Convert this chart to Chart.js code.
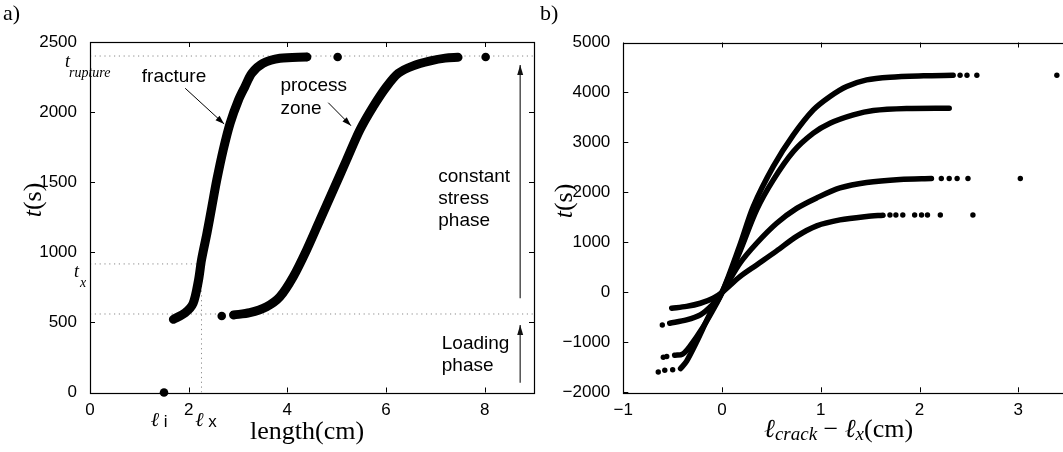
<!DOCTYPE html>
<html>
<head>
<meta charset="utf-8">
<script src="https://cdn.jsdelivr.net/npm/chart.js@4.4.0/dist/chart.umd.min.js"></script>
<style>
html, body { margin: 0; padding: 0; background: #fff; overflow: hidden; }
body { width: 1063px; height: 452px; position: relative; }
#pa { position: absolute; left: 0; top: 0; width: 545px; height: 452px; }
#pb { position: absolute; left: 540px; top: 0; width: 560px; height: 452px; }
</style>
</head>
<body>
<div id="pa"><canvas id="ca"></canvas></div>
<div id="pb"><canvas id="cb"></canvas></div>
<script>
// ---- panel a : length (cm) vs t (s)
const fracLen = [1.69, 1.93, 2.09, 2.20, 2.26, 2.37, 2.47, 2.57, 2.70, 2.84, 3.01, 3.14, 3.28, 3.51, 3.85, 4.39];
const fracT   = [522, 569, 636, 802, 945, 1135, 1325, 1516, 1730, 1920, 2086, 2181, 2277, 2348, 2384, 2393];
const zoneLen = [2.91, 3.24, 3.58, 3.85, 4.12, 4.39, 4.66, 4.93, 5.20, 5.47, 5.74, 6.01, 6.25, 6.55, 6.90, 7.20, 7.46];
const zoneT   = [553, 569, 612, 683, 826, 1016, 1230, 1444, 1658, 1872, 2039, 2181, 2277, 2330, 2365, 2385, 2391];
const aDotLen = [1.50, 2.67, 4.40, 5.02, 8.02];
const aDotT   = [0, 546, 2393, 2393, 2393];

const tRupture = 2400, tX = 917, tLoad = 560, lX = 2.26, lI = 1.5;

const noteText = ['fracture', 'process', 'zone', 'constant', 'stress', 'phase', 'Loading', 'phase'];
const noteLen  = [1.05, 3.86, 3.86, 7.06, 7.06, 7.06, 7.13, 7.13];
const noteT    = [2253, 2186, 2027, 1539, 1380, 1223, 351, 191];
// arrows: [x0, t0, x1, t1]
const arrowsThin = [[1.93, 2170, 2.72, 1915], [4.83, 2067, 5.29, 1903]];
const arrowsPhase = [[8.72, 672, 8.72, 2336], [8.72, 70, 8.72, 482]];

// ---- panel b : l_crack - l_x (cm) vs t - t_x (s), four runs
const runALen = [-0.42, -0.36, -0.26, -0.12, 0, 0.181, 0.316, 0.519, 0.722, 0.924, 1.093, 1.262, 1.464, 1.70, 2.04, 2.34];
const runAT   = [-1525, -1380, -1000, -420, 0, 950, 1717, 2520, 3150, 3650, 3919, 4119, 4252, 4306, 4333, 4345];
const runADotLen = [-0.646, -0.58, -0.50, 2.41, 2.48, 2.58, 3.39];
const runADotT   = [-1595, -1560, -1548, 4345, 4345, 4345, 4345];

const runBLen = [-0.48, -0.40, -0.33, -0.19, -0.054, 0, 0.181, 0.350, 0.519, 0.722, 0.924, 1.093, 1.329, 1.532, 1.869, 2.30];
const runBT   = [-1260, -1235, -1090, -686, -218, 0, 820, 1650, 2251, 2818, 3185, 3385, 3552, 3639, 3679, 3685];
const runBDotLen = [-0.595, -0.56];
const runBDotT   = [-1300, -1285];

const runCLen = [-0.53, -0.36, -0.22, -0.10, 0, 0.181, 0.350, 0.553, 0.755, 0.958, 1.194, 1.464, 1.802, 2.12];
const runCT   = [-618, -552, -452, -252, 0, 582, 983, 1383, 1680, 1890, 2090, 2200, 2260, 2278];
const runCDotLen = [-0.605, 2.22, 2.30, 2.38, 2.49, 3.02];
const runCDotT   = [-652, 2278, 2278, 2278, 2278, 2278];

const runDLen = [-0.51, -0.36, -0.22, -0.09, 0, 0.181, 0.350, 0.553, 0.755, 0.958, 1.194, 1.464, 1.63];
const runDT   = [-318, -280, -218, -118, 0, 315, 549, 830, 1120, 1330, 1450, 1520, 1545];
const runDDotLen = [1.70, 1.76, 1.83, 1.95, 2.02, 2.08, 2.21, 2.54];
const runDDotT   = [1548, 1548, 1548, 1548, 1548, 1548, 1548, 1548];

const SANS = "'Liberation Sans', Arial, sans-serif";
const SERIF = "'Liberation Serif', 'Times New Roman', serif";
Chart.defaults.font.family = SANS;
Chart.defaults.color = '#000';

const xy = (xs, ys) => xs.map((v, i) => ({ x: v, y: ys[i] }));

function curve(xs, ys, w) {
  return { data: xy(xs, ys), showLine: true, borderColor: '#000', borderWidth: w,
    pointRadius: 0, tension: 0.3, borderCapStyle: 'round', borderJoinStyle: 'round' };
}
function dots(xs, ys, r) {
  return { data: xy(xs, ys), showLine: false, pointRadius: r, pointBackgroundColor: '#000',
    pointBorderWidth: 0, clip: false };
}
function guide(xs, ys) {
  return { data: xy(xs, ys), showLine: true, borderColor: '#8a8a8a', borderWidth: 1,
    borderDash: [1.2, 3.6], pointRadius: 0, order: 10 };
}

// draw a string made of runs with different fonts, centred on (x, y)
function runs(ctx, parts, x, y) {
  let w = 0;
  parts.forEach(p => { ctx.font = p.font; w += ctx.measureText(p.t).width; });
  let cx = x - w / 2;
  ctx.textBaseline = 'middle';
  ctx.textAlign = 'left';
  parts.forEach(p => { ctx.font = p.font; ctx.fillText(p.t, cx, y + (p.dy || 0)); cx += ctx.measureText(p.t).width; });
}

function arrow(ctx, x0, y0, x1, y1, head, half) {
  ctx.beginPath(); ctx.moveTo(x0, y0); ctx.lineTo(x1, y1); ctx.stroke();
  const a = Math.atan2(y1 - y0, x1 - x0);
  ctx.beginPath();
  ctx.moveTo(x1, y1);
  ctx.lineTo(x1 - head * Math.cos(a) + half * Math.sin(a), y1 - head * Math.sin(a) - half * Math.cos(a));
  ctx.lineTo(x1 - head * Math.cos(a) - half * Math.sin(a), y1 - head * Math.sin(a) + half * Math.cos(a));
  ctx.closePath(); ctx.fill();
}

// box round the axes with inward ticks on all four sides (matlab style)
const frame = {
  id: 'frame',
  afterDatasetsDraw(chart) {
    const { ctx, chartArea: a, scales: { x, y } } = chart;
    ctx.save();
    ctx.strokeStyle = '#000';
    ctx.lineWidth = 1.2;
    ctx.strokeRect(Math.round(a.left) + 0.5, Math.round(a.top) + 0.5,
      Math.round(a.right - a.left), Math.round(a.bottom - a.top));
    ctx.lineWidth = 1;
    ctx.beginPath();
    x.ticks.forEach(t => {
      const p = Math.round(x.getPixelForValue(t.value)) + 0.5;
      ctx.moveTo(p, a.bottom); ctx.lineTo(p, a.bottom - 5);
      ctx.moveTo(p, a.top); ctx.lineTo(p, a.top + 5);
    });
    y.ticks.forEach(t => {
      const p = Math.round(y.getPixelForValue(t.value)) + 0.5;
      ctx.moveTo(a.left, p); ctx.lineTo(a.left + 5, p);
      ctx.moveTo(a.right, p); ctx.lineTo(a.right - 5, p);
    });
    ctx.stroke();
    ctx.restore();
  }
};

const notesA = {
  id: 'notesA',
  afterDraw(chart) {
    const { ctx, chartArea: a, scales: { x, y } } = chart;
    ctx.save();
    ctx.fillStyle = '#000';
    ctx.font = '19px ' + SANS;
    ctx.textBaseline = 'middle';
    noteText.forEach((s, i) => ctx.fillText(s, x.getPixelForValue(noteLen[i]), y.getPixelForValue(noteT[i])));
    ctx.strokeStyle = '#000'; ctx.lineWidth = 1;
    arrowsThin.forEach(r => arrow(ctx, x.getPixelForValue(r[0]), y.getPixelForValue(r[1]),
      x.getPixelForValue(r[2]), y.getPixelForValue(r[3]), 9, 3));
    ctx.strokeStyle = '#444'; ctx.fillStyle = '#111'; ctx.lineWidth = 1.4;
    arrowsPhase.forEach(r => arrow(ctx, x.getPixelForValue(r[0]), y.getPixelForValue(r[1]),
      x.getPixelForValue(r[2]), y.getPixelForValue(r[3]), 10, 3));
    ctx.fillStyle = '#000';
    // t_rupture and t_x beside the axis
    const yr = y.getPixelForValue(tRupture), yx = y.getPixelForValue(tX);
    ctx.font = 'italic 18px ' + SERIF;
    ctx.fillText('t', 65, yr + 6);
    ctx.fillText('t', 74, yx + 8);
    ctx.font = 'italic 14px ' + SERIF;
    ctx.fillText('rupture', 69, yr + 17);
    ctx.fillText('x', 80, yx + 19);
    // l_i and l_x under the axis
    const ly = a.bottom + 28;
    runs(ctx, [{ t: 'ℓ', font: 'italic 20px ' + SERIF }, { t: ' i', font: '17px ' + SANS, dy: 2 }],
      x.getPixelForValue(lI - 0.1), ly);
    runs(ctx, [{ t: 'ℓ', font: 'italic 20px ' + SERIF }, { t: ' x', font: '17px ' + SANS, dy: 2 }],
      x.getPixelForValue(lX + 0.09), ly);
    // axis titles
    runs(ctx, [{ t: 'length(cm)', font: '26px ' + SERIF }], x.getPixelForValue(4.4), 432);
    ctx.translate(34, 200);
    ctx.rotate(-Math.PI / 2);
    runs(ctx, [{ t: 't', font: 'italic 26px ' + SERIF }, { t: '(s)', font: '26px ' + SERIF }], 0, 0);
    ctx.restore();
    ctx.save();
    ctx.font = '22px ' + SERIF;
    ctx.textBaseline = 'middle';
    ctx.fillText('a)', 3, 14);
    ctx.restore();
  }
};

const notesB = {
  id: 'notesB',
  afterDraw(chart) {
    const { ctx, scales: { x } } = chart;
    ctx.save();
    ctx.fillStyle = '#000';
    runs(ctx, [
      { t: 'ℓ', font: 'italic 26px ' + SERIF },
      { t: 'crack', font: 'italic 19px ' + SERIF, dy: 5 },
      { t: ' − ', font: '26px ' + SERIF },
      { t: 'ℓ', font: 'italic 26px ' + SERIF },
      { t: 'x', font: 'italic 19px ' + SERIF, dy: 5 },
      { t: '(cm)', font: '26px ' + SERIF }
    ], x.getPixelForValue(1.18), 430);
    ctx.translate(25, 201);
    ctx.rotate(-Math.PI / 2);
    runs(ctx, [{ t: 't', font: 'italic 26px ' + SERIF }, { t: '(s)', font: '26px ' + SERIF }], 0, 0);
    ctx.restore();
    ctx.save();
    ctx.font = '22px ' + SERIF;
    ctx.textBaseline = 'middle';
    ctx.fillText('b)', 0, 14);
    ctx.restore();
  }
};

const minus = v => String(v).replace('-', '\u2212');

function axes(xmin, xmax, xstep, ymin, ymax, ystep, yw, xh) {
  const tick = { autoSkip: false, maxRotation: 0, includeBounds: false, font: { size: 17 }, color: '#000', callback: minus };
  return {
    x: { type: 'linear', min: xmin, max: xmax, grid: { display: false }, border: { display: false },
      ticks: Object.assign({ stepSize: xstep, padding: 0 }, tick), afterFit(s) { s.height = xh; } },
    y: { type: 'linear', min: ymin, max: ymax, grid: { display: false }, border: { display: false },
      ticks: Object.assign({ stepSize: ystep, padding: 5 }, tick), afterFit(s) { s.width = yw; } }
  };
}

const common = {
  animation: false, responsive: true, maintainAspectRatio: false,
  plugins: { legend: { display: false }, tooltip: { enabled: false } }
};

new Chart(document.getElementById('ca'), {
  type: 'scatter',
  data: {
    datasets: [
      curve(fracLen, fracT, 9),
      curve(zoneLen, zoneT, 9),
      dots(aDotLen, aDotT, 4.3),
      guide([0, 9], [tRupture, tRupture]),
      guide([0, 9], [tLoad, tLoad]),
      guide([0, lX], [tX, tX]),
      guide([lX, lX], [0, tX])
    ]
  },
  options: Object.assign({}, common, {
    layout: { padding: { left: 0, top: 42, right: 11, bottom: 0 } },
    scales: axes(0, 9, 2, 0, 2500, 500, 90, 59.5)
  }),
  plugins: [frame, notesA]
});

new Chart(document.getElementById('cb'), {
  type: 'scatter',
  data: {
    datasets: [
      curve(runALen, runAT, 5.5), dots(runADotLen, runADotT, 2.7),
      curve(runBLen, runBT, 5.5), dots(runBDotLen, runBDotT, 2.7),
      curve(runCLen, runCT, 5.5), dots(runCDotLen, runCDotT, 2.7),
      curve(runDLen, runDT, 5.5), dots(runDDotLen, runDDotT, 2.7)
    ]
  },
  options: Object.assign({}, common, {
    layout: { padding: { left: 0, top: 42.5, right: 22.4, bottom: 0 } },
    scales: axes(-1, 3.6, 1, -2000, 5000, 1000, 83.3, 59.7)
  }),
  plugins: [frame, notesB]
});
</script>
</body>
</html>
